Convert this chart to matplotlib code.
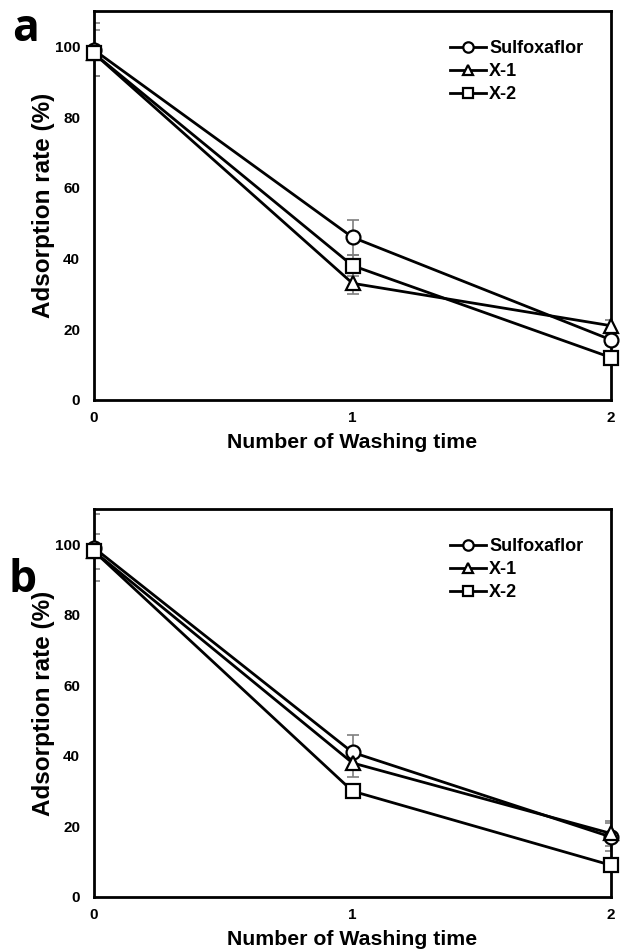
import numpy as np
import matplotlib
matplotlib.use("Agg")
import matplotlib.pyplot as plt

plt.rcParams['font.family'] = ['Liberation Sans', 'DejaVu Sans']
plt.rcParams['font.weight'] = 'bold'

# data
wash = [0, 1, 2]
series = ['Sulfoxaflor', 'X-1', 'X-2']
markers = ['o', '^', 's']

a_vals = {'Sulfoxaflor': [99, 46, 17], 'X-1': [98, 33, 21], 'X-2': [98, 38, 12]}
a_errs = {'Sulfoxaflor': [7.5, 5, 1.5], 'X-1': [6.5, 3, 1.5], 'X-2': [1, 3, 1]}

b_vals = {'Sulfoxaflor': [99, 41, 17], 'X-1': [98, 38, 18], 'X-2': [98, 30, 9]}
b_errs = {'Sulfoxaflor': [9.5, 5, 4], 'X-1': [5, 4, 3.5], 'X-2': [1, 2, 1]}

yticks = [0, 20, 40, 60, 80, 100]

fig = plt.figure(figsize=(6.2, 9.51), dpi=100)
ax_a = fig.add_axes([0.1516, 0.5794, 0.834, 0.409])
ax_b = fig.add_axes([0.1516, 0.0568, 0.834, 0.408])


def draw_panel(ax, vals, errs):
    for name, m in zip(series, markers):
        ax.errorbar(wash, vals[name], yerr=errs[name], fmt='none',
                    ecolor='#7f7f7f', elinewidth=1.2, capsize=4, capthick=1.2,
                    zorder=2)
    for name, m in zip(series, markers):
        ax.plot(wash, vals[name], color='black', lw=2, marker=m, ms=10,
                mfc='white', mec='black', mew=1.6, label=name,
                clip_on=False, zorder=3)
    ax.set_xlim(0, 2)
    ax.set_ylim(0, 110)
    ax.set_xticks(wash)
    ax.set_yticks(yticks)
    ax.tick_params(axis='y', length=0, labelsize=11, pad=10)
    ax.tick_params(axis='x', length=0, labelsize=11, pad=8)
    for lab in ax.get_xticklabels() + ax.get_yticklabels():
        lab.set_fontweight('bold')
    for sp in ax.spines.values():
        sp.set_linewidth(2)
    ax.set_xlabel('Number of Washing time', fontsize=15.3, fontweight='bold', labelpad=6)
    ax.set_ylabel('Adsorption rate (%)', fontsize=17.5, fontweight='bold', labelpad=0)
    ax.legend(loc='upper right', bbox_to_anchor=(0.946, 0.925), frameon=False,
              handlelength=2.0, handletextpad=0.17, labelspacing=0.33,
              borderaxespad=0, borderpad=0,
              prop={'size': 13, 'weight': 'bold'}, markerscale=0.75)


draw_panel(ax_a, a_vals, a_errs)
draw_panel(ax_b, b_vals, b_errs)

fig.text(0.042, 0.9685, 'a', fontsize=32, fontweight='bold', family=['Open Sans', 'DejaVu Sans'], va='center', ha='center')
fig.text(0.037, 0.390, 'b', fontsize=32, fontweight='bold', family=['Open Sans', 'DejaVu Sans'], va='center', ha='center')

fig.savefig('out.png', dpi=100)
